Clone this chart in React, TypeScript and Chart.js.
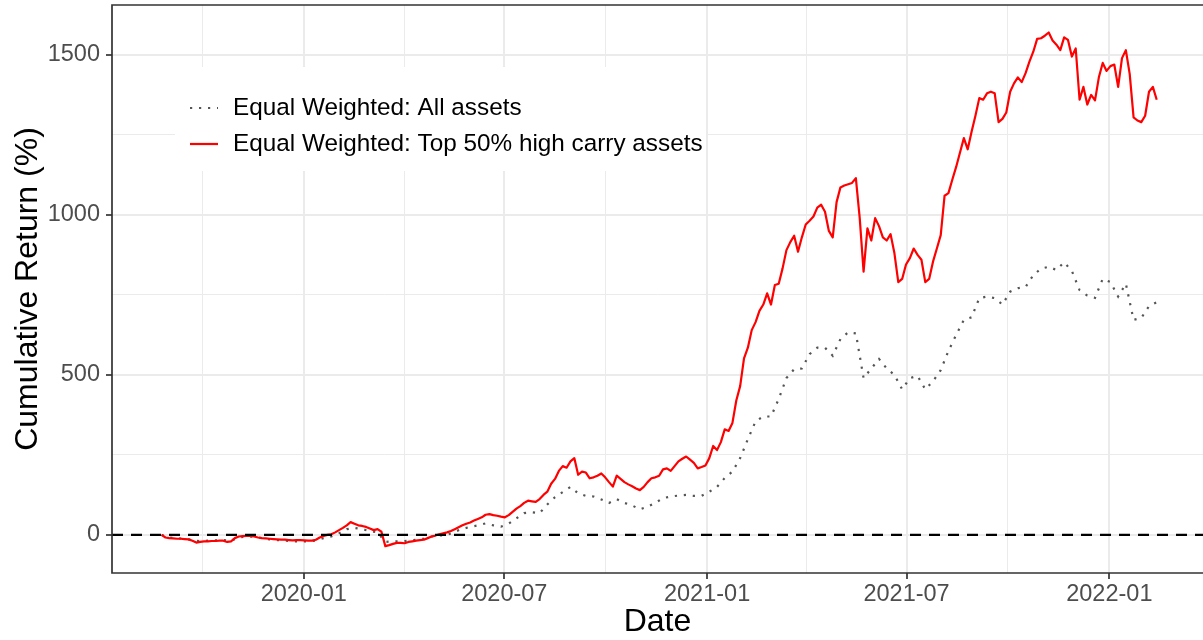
import React, { useEffect, useRef } from "react";
import { Chart, registerables } from "chart.js";

Chart.register(...registerables);

const FONT = "'Liberation Sans', Arial, Helvetica, sans-serif";

// Observations start 2019-08-25; top-carry series read twice a week, all-assets weekly
const START_DATE = "2019-08-25";
const TOP_STEP_DAYS = 3.5;
const ALL_STEP_DAYS = 7;

const SERIES_NAMES = [
  "Equal Weighted: All assets",
  "Equal Weighted: Top 50% high carry assets",
];

// Cumulative return (%) - Equal Weighted: Top 50% high carry assets
const topCarry = [
  0, -8, -10, -11, -12, -12, -13, -14, -18, -24,
  -22, -20, -20, -19, -19, -18, -18, -22, -20, -10,
  -5, -4, -3, -3, -5, -8, -10, -11, -12, -13,
  -14, -15, -15, -16, -17, -16, -16, -17, -18, -18,
  -15, -8, -3, 0, 2, 8, 15, 22, 30, 40,
  35, 30, 28, 25, 20, 15, 18, 10, -35, -32,
  -28, -25, -25, -26, -22, -20, -18, -16, -15, -10,
  -5, -2, 2, 5, 8, 12, 18, 24, 30, 35,
  39, 45, 50, 55, 63, 65, 62, 60, 57, 55,
  62, 72, 82, 90, 100, 107, 105, 103, 112, 125,
  135, 160, 175, 200, 215, 210, 230, 240, 188, 198,
  195, 177, 180, 185, 192, 180, 165, 151, 185, 175,
  165, 158, 152, 145, 140, 150, 165, 177, 180, 185,
  205, 208, 200, 215, 230, 238, 245, 235, 225, 208,
  212, 217, 240, 278, 265, 290, 330, 325, 350, 420,
  465, 552, 585, 640, 665, 700, 720, 755, 720, 781,
  785, 833, 890, 915, 935, 885, 930, 970, 982, 995,
  1023, 1032, 1010, 950, 930, 1040, 1086, 1092, 1096, 1100,
  1115, 990, 823, 958, 920, 990, 965, 930, 920, 940,
  880, 790, 800, 845, 865, 895, 875, 860, 790, 800,
  854, 895, 937, 1060, 1068, 1110, 1150, 1195, 1240, 1205,
  1260, 1310, 1365, 1360, 1380, 1385, 1380, 1290, 1300, 1320,
  1385, 1411, 1430, 1415, 1443, 1479, 1510, 1550, 1552, 1560,
  1570, 1545, 1532, 1515, 1555, 1547, 1495, 1520, 1360, 1400,
  1345, 1375, 1358, 1430, 1475, 1450, 1465, 1470, 1400, 1490,
  1515, 1440, 1305, 1295, 1290, 1310, 1385, 1400, 1360,
];

// Cumulative return (%) - Equal Weighted: All assets
const allAssets = [
  0, -8, -10, -12, -16, -20, -18, -17, -16, -18,
  -8, -5, -6, -10, -14, -16, -18, -20, -20, -20,
  -18, -10, -5, 5, 18, 22, 18, 12, 8, -22,
  -20, -20, -18, -15, -12, -5, -2, 0, 10, 19,
  25, 30, 36, 30, 26, 35, 52, 68, 71, 68,
  95, 118, 134, 150, 130, 122, 120, 111, 100, 112,
  100, 92, 80, 88, 100, 115, 120, 123, 125, 122,
  122, 135, 150, 178, 198, 240, 299, 355, 370, 370,
  425, 490, 518, 520, 565, 585, 585, 560, 612, 633,
  630, 490, 520, 550, 520, 500, 455, 490, 497, 455,
  480, 515, 575, 625, 672, 680, 740, 745, 740, 720,
  760, 771, 775, 812, 832, 838, 828, 852, 825, 765,
  748, 741, 800, 790, 745, 785, 672, 678, 715, 727,
];

// Axis ticks
const xMajorTicks = ["2020-01-01", "2020-07-01", "2021-01-01", "2021-07-01", "2022-01-01"];
const xMinorTicks = ["2019-10-01", "2020-04-01", "2020-10-01", "2021-04-01", "2021-10-01"];
const yMajorTicks = [0, 500, 1000, 1500];
const yMinorTicks = [250, 750, 1250];
const X_RANGE = ["2019-07-11", "2022-03-27"];
const Y_RANGE = [-119, 1656];

const ORIGIN = Date.UTC(2020, 0, 1);
function dayOf(s: string): number {
  const [y, m, d] = s.split("-").map(Number);
  return Math.round((Date.UTC(y, m - 1, d) - ORIGIN) / 86400000);
}
function fmtMonth(day: number): string {
  const dt = new Date(ORIGIN + day * 86400000);
  const m = dt.getUTCMonth() + 1;
  return dt.getUTCFullYear() + "-" + (m < 10 ? "0" + m : "" + m);
}

const startDay = dayOf(START_DATE);
const topDays = topCarry.map((_, i) => startDay + i * TOP_STEP_DAYS);
const allDays = allAssets.map((_, i) => startDay + i * ALL_STEP_DAYS);

export default function App() {
  const ref = useRef<HTMLCanvasElement | null>(null);

  useEffect(() => {
    if (!ref.current) return;
    const majorX = new Set(xMajorTicks.map(dayOf));
    const xTicks = [...xMajorTicks, ...xMinorTicks].map(dayOf).sort((a, b) => a - b);
    const majorY = new Set(yMajorTicks);
    const yTicks = [...yMajorTicks, ...yMinorTicks].sort((a, b) => a - b);

    const overlay = {
      id: "overlay",
      afterDatasetsDraw(chart: any) {
        const { ctx, chartArea, scales } = chart;
        const y0 = scales.y.getPixelForValue(0);
        ctx.save();
        ctx.beginPath();
        ctx.rect(chartArea.left, chartArea.top, chartArea.right - chartArea.left, chartArea.bottom - chartArea.top);
        ctx.clip();
        ctx.strokeStyle = "#000000";
        ctx.lineWidth = 2.3;
        ctx.setLineDash([11, 8]);
        ctx.beginPath();
        ctx.moveTo(chartArea.left, y0);
        ctx.lineTo(chartArea.right, y0);
        ctx.stroke();
        ctx.restore();
      },
      afterDraw(chart: any) {
        const { ctx, chartArea } = chart;
        const L = chartArea.left;
        const T = chartArea.top;
        ctx.save();
        // legend box
        const bx = L + 63;
        const by = T + 62;
        ctx.fillStyle = "#ffffff";
        ctx.fillRect(bx, by, 531, 104);
        const rows = [T + 103, T + 139];
        const keyX0 = bx + 15;
        const keyX1 = bx + 43;
        ctx.strokeStyle = "#555555";
        ctx.lineWidth = 2.2;
        ctx.setLineDash([2.2, 6.8]);
        ctx.beginPath();
        ctx.moveTo(keyX0, rows[0]);
        ctx.lineTo(keyX1, rows[0]);
        ctx.stroke();
        ctx.setLineDash([]);
        ctx.strokeStyle = "#FF0000";
        ctx.beginPath();
        ctx.moveTo(keyX0, rows[1]);
        ctx.lineTo(keyX1, rows[1]);
        ctx.stroke();
        ctx.fillStyle = "#000000";
        ctx.font = "24.3px " + FONT;
        ctx.textBaseline = "middle";
        ctx.textAlign = "left";
        ctx.fillText(SERIES_NAMES[0], bx + 58, rows[0]);
        ctx.fillText(SERIES_NAMES[1], bx + 58, rows[1]);
        // panel border
        ctx.strokeStyle = "#333333";
        ctx.lineWidth = 1.7;
        ctx.beginPath();
        ctx.moveTo(chartArea.right + 2, chartArea.top);
        ctx.lineTo(chartArea.left, chartArea.top);
        ctx.lineTo(chartArea.left, chartArea.bottom);
        ctx.lineTo(chartArea.right + 2, chartArea.bottom);
        ctx.stroke();
        ctx.restore();
      },
    };

    const chart = new Chart(ref.current, {
      type: "line",
      data: {
        datasets: [
          {
            label: SERIES_NAMES[1],
            data: topCarry.map((v, i) => ({ x: topDays[i], y: v })),
            borderColor: "#FF0000",
            borderWidth: 2.2,
            borderJoinStyle: "round",
            pointRadius: 0,
            tension: 0,
            fill: false,
          },
          {
            label: SERIES_NAMES[0],
            data: allAssets.map((v, i) => ({ x: allDays[i], y: v })),
            borderColor: "#555555",
            borderWidth: 2.2,
            borderDash: [2.2, 6.8],
            borderCapStyle: "butt",
            pointRadius: 0,
            tension: 0,
            fill: false,
          },
        ],
      },
      options: {
        animation: false,
        responsive: false,
        maintainAspectRatio: false,
        layout: { padding: { top: 5, left: 0, right: 0, bottom: 0 } },
        plugins: { legend: { display: false }, tooltip: { enabled: false } },
        scales: {
          x: {
            type: "linear",
            min: dayOf(X_RANGE[0]),
            max: dayOf(X_RANGE[1]),
            afterBuildTicks: (s: any) => {
              s.ticks = xTicks.map((v) => ({ value: v }));
            },
            afterFit: (s: any) => {
              s.height = 67;
              s.paddingLeft = 0;
              s.paddingRight = 0;
              s.paddingTop = 0;
              s.paddingBottom = 0;
            },
            ticks: {
              autoSkip: false,
              maxRotation: 0,
              minRotation: 0,
              padding: 4,
              color: "#4D4D4D",
              font: { family: FONT, size: 23.5, lineHeight: 1 },
              callback: (v: any) => (majorX.has(Number(v)) ? fmtMonth(Number(v)) : ""),
            },
            grid: {
              color: "#EBEBEB",
              lineWidth: (c: any) => (c.tick && majorX.has(c.tick.value) ? 2 : 1),
              tickLength: 6,
              tickWidth: 1.7,
              tickColor: (c: any) => (c.tick && majorX.has(c.tick.value) ? "#333333" : "rgba(0,0,0,0)"),
            },
            border: { display: false },
            title: {
              display: true,
              text: "Date",
              color: "#000000",
              font: { family: FONT, size: 32, lineHeight: 1 },
              padding: { top: 0, bottom: 2 },
            },
          },
          y: {
            type: "linear",
            min: Y_RANGE[0],
            max: Y_RANGE[1],
            afterBuildTicks: (s: any) => {
              s.ticks = yTicks.map((v) => ({ value: v }));
            },
            afterFit: (s: any) => {
              s.width = 112;
              s.paddingLeft = 0;
              s.paddingRight = 0;
              s.paddingTop = 0;
              s.paddingBottom = 0;
            },
            ticks: {
              autoSkip: false,
              padding: 6,
              color: "#4D4D4D",
              font: { family: FONT, size: 23.5, lineHeight: 1 },
              callback: (v: any) => (majorY.has(Number(v)) ? String(v) : ""),
            },
            grid: {
              color: "#EBEBEB",
              lineWidth: (c: any) => (c.tick && majorY.has(c.tick.value) ? 2 : 1),
              tickLength: 6,
              tickWidth: 1.7,
              tickColor: (c: any) => (c.tick && majorY.has(c.tick.value) ? "#333333" : "rgba(0,0,0,0)"),
            },
            border: { display: false },
            title: {
              display: true,
              text: "Cumulative Return (%)",
              color: "#000000",
              font: { family: FONT, size: 32, lineHeight: 1 },
              padding: { top: 12, bottom: 0 },
            },
          },
        },
      },
      plugins: [overlay],
    } as any);

    return () => chart.destroy();
  }, []);

  return (
    <div style={{ position: "absolute", left: 0, top: 0, width: 1203, height: 640, overflow: "hidden", background: "#ffffff" }}>
      <canvas ref={ref} width={1203} height={640} style={{ display: "block", width: 1203, height: 640 }} />
    </div>
  );
}
